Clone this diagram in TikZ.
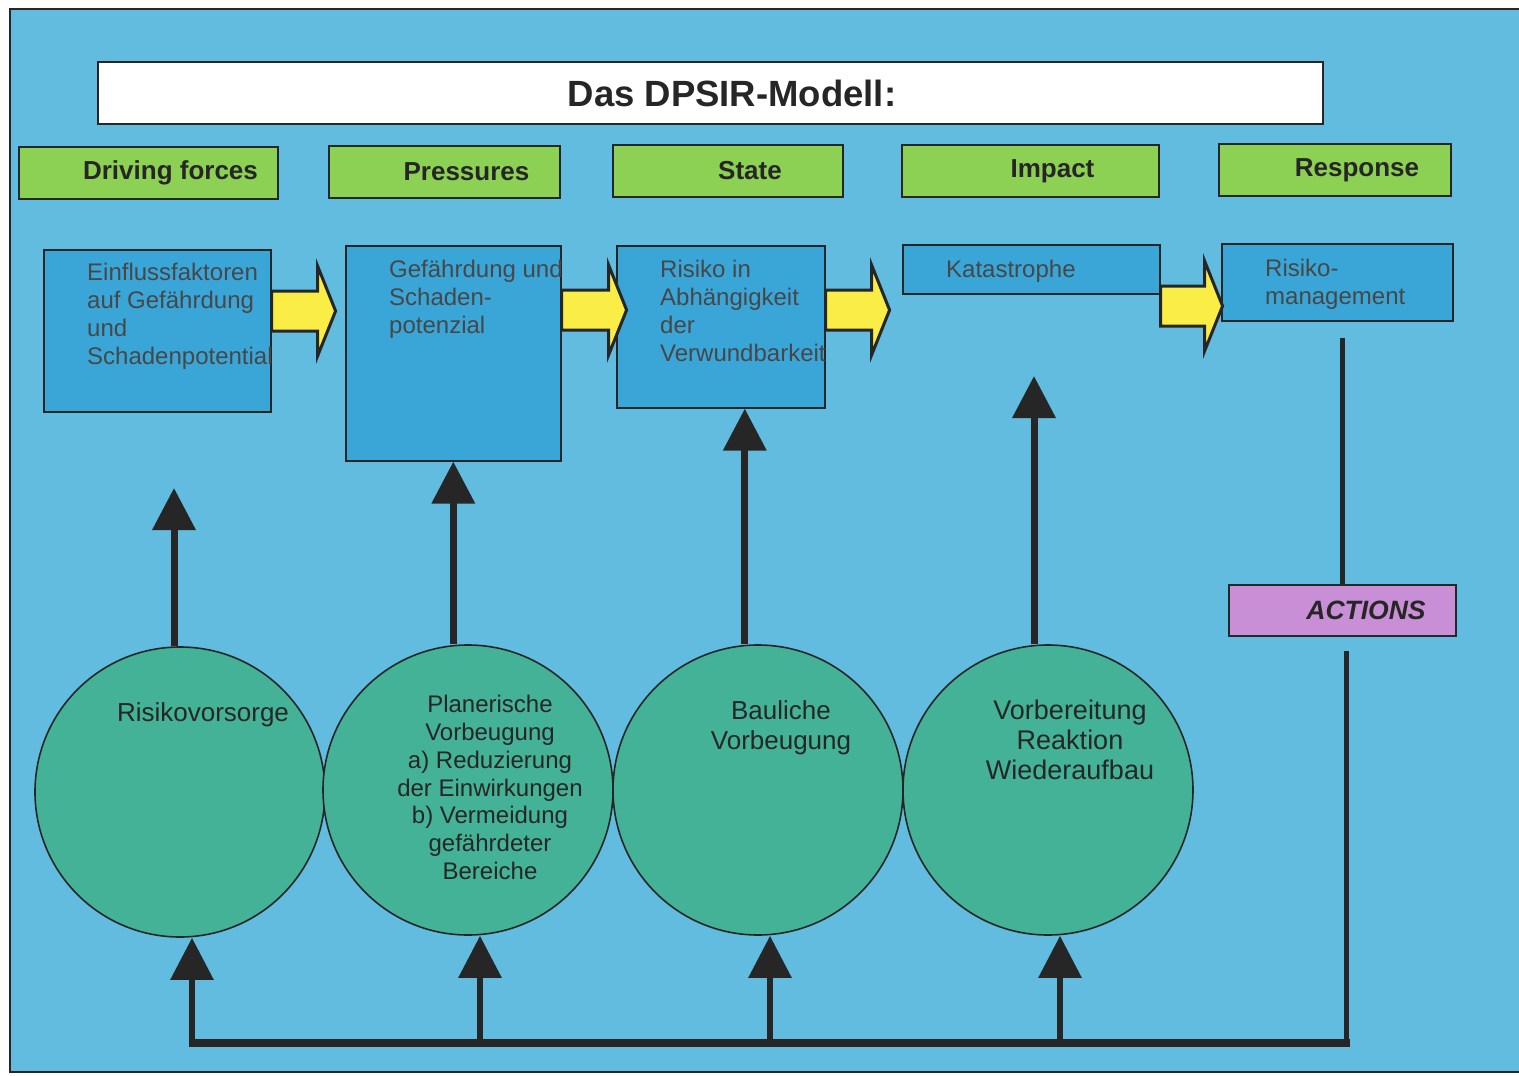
\documentclass[tikz,border=0pt]{standalone}
\usepackage{fontspec}
\setmainfont{Liberation Sans}
\usepackage{tikz}
\usetikzlibrary{arrows.meta,positioning,calc}

\definecolor{bgblue}{RGB}{98,188,224}
\definecolor{boxblue}{RGB}{58,166,216}
\definecolor{hdgreen}{RGB}{140,208,84}
\definecolor{circgreen}{RGB}{68,178,150}
\definecolor{actpurple}{RGB}{200,142,214}
\definecolor{arryellow}{RGB}{250,238,70}
\definecolor{ink}{RGB}{38,38,38}

\tikzset{
  titlebox/.style={draw=ink, line width=2pt, fill=white, minimum width=1225pt,
    minimum height=62pt, text=ink, font=\fontsize{36.5}{40}\selectfont\bfseries,
    execute at begin node={\hspace*{43pt}}},
  hdbox/.style={draw=ink, line width=2pt, fill=hdgreen, minimum width=231pt,
    minimum height=52pt, text=ink, font=\fontsize{26}{30}\selectfont\bfseries,
    execute at begin node={\hspace*{44pt}}},
  infobox/.style={draw=ink, line width=1.6pt, fill=boxblue, anchor=north west},
  infotext/.style={anchor=north west, inner sep=0pt, align=left,
    font=\fontsize{24}{28}\selectfont, text=ink!85},
  measure/.style={circle, draw=ink, line width=1.6pt, fill=circgreen, minimum size=290pt},
  circtext/.style={anchor=north, inner sep=0pt, align=center, text=ink,
    font=\fontsize{26}{30.5}\selectfont},
  actbox/.style={draw=ink, line width=2pt, fill=actpurple, minimum width=227pt,
    minimum height=51pt, text=ink, font=\fontsize{26.5}{30}\selectfont\bfseries\itshape,
    execute at begin node={\hspace*{47pt}}},
  yarrow/.style={draw=ink, line width=3pt, fill=arryellow, line join=miter},
  uparr/.style={draw=ink, line width=7pt, -{Triangle[width=42pt,length=42pt]}},
  feedline/.style={draw=ink, line width=5pt}
}

\begin{document}
\begin{tikzpicture}[x=1pt,y=-1pt]
  \useasboundingbox (0,0) rectangle (1519,1076);
  \draw[fill=bgblue, draw=ink, line width=1.5pt] (10,9) rectangle (1535,1072);

  \node[titlebox] (title) at (710.5,93) {Das DPSIR-Modell:};

  % DPSIR headers
  \node[hdbox, minimum width=259pt] (hd) at (148.5,173) {Driving forces};
  \node[hdbox] (hp) at (444.5,172) {Pressures};
  \node[hdbox, minimum width=230pt] (hs) at (728,171) {State};
  \node[hdbox, minimum width=257pt] (hi) at (1030.5,171) {Impact};
  \node[hdbox, minimum width=232pt] (hr) at (1335,170) {Response};

  % content boxes
  \node[infobox, minimum width=227pt, minimum height=162pt] (b1) at (43,249) {};
  \node[infobox, minimum width=215pt, minimum height=215pt] (b2) at (345,245) {};
  \node[infobox, minimum width=208pt, minimum height=162pt] (b3) at (616,245) {};
  \node[infobox, minimum width=257pt, minimum height=49pt] (b4) at (902,244) {};
  \node[infobox, minimum width=231pt, minimum height=77pt] (resp) at (1221,243) {};
  \node[infotext] (t1) at (87,263) {Einflussfaktoren\\auf Gefährdung\\und\\Schadenpotential};
  \node[infotext] (t2) at (389,260) {Gefährdung und\\Schaden-\\potenzial};
  \node[infotext] (t3) at (660,260) {Risiko in\\Abhängigkeit\\der\\Verwundbarkeit};
  \node[infotext] (t4) at (946,260) {Katastrophe};
  \node[infotext] (t5) at (1265,259) {Risiko-\\management};

  % yellow block arrows
  \foreach \bx/\len/\ytop in {b1/46/291, b2/47/290, b3/46/290, b4/44/286}
    \draw[yarrow] (\bx.east |- 0,\ytop) -- ++(\len,0) -- ++(0,-25) -- ++(18,45)
      -- ++(-18,45) -- ++(0,-25) -- ++(-\len,0) -- cycle;

  % measures
  \node[measure] (c1) at (180,792) {};
  \node[measure] (c2) at (468,790) {};
  \node[measure] (c3) at (758,790) {};
  \node[measure] (c4) at (1048,790) {};
  \node[circtext] (m1) at (203,702) {Risikovorsorge};
  \node[circtext, font=\fontsize{24}{27.8}\selectfont] (m2) at (490,695)
    {Planerische\\Vorbeugung\\a) Reduzierung\\der Einwirkungen\\b) Vermeidung\\gefährdeter\\Bereiche};
  \node[circtext] (m3) at (781,700) {Bauliche\\Vorbeugung};
  \node[circtext, font=\fontsize{27}{30}\selectfont] (m4) at (1070,700) {Vorbereitung\\Reaktion\\Wiederaufbau};

  % arrows upwards
  \coordinate (e1) at (174,488);
  \coordinate (e3) at ([xshift=24pt]b3.south);
  \coordinate (e4) at (1034,376);
  \draw[uparr] (c1.north -| e1) -- (e1);
  \draw[uparr] (c2.north -| b2.south) -- (b2.south);
  \draw[uparr] (c3.north -| e3) -- (e3);
  \draw[uparr] (c4.north -| e4) -- (e4);

  % actions and feedback
  \node[actbox] (act) at (1342.5,610.5) {ACTIONS};
  \coordinate (bus) at (189,1043);
  \coordinate (corner) at (1349.5,1043);
  \draw[feedline] ([yshift=-16pt]act.north |- resp.south) -- (act.north);
  \draw[feedline] ([xshift=4pt,yshift=-14pt]act.south) -- ([xshift=4pt]act.south |- bus);
  \draw[feedline, line width=8pt] (corner) -- (bus);
  \foreach \c in {c1,c2,c3,c4}
    \draw[uparr, line width=6pt] ([xshift=12pt]\c.south |- 0,1047) -- ([xshift=12pt]\c.south);
\end{tikzpicture}
\end{document}
